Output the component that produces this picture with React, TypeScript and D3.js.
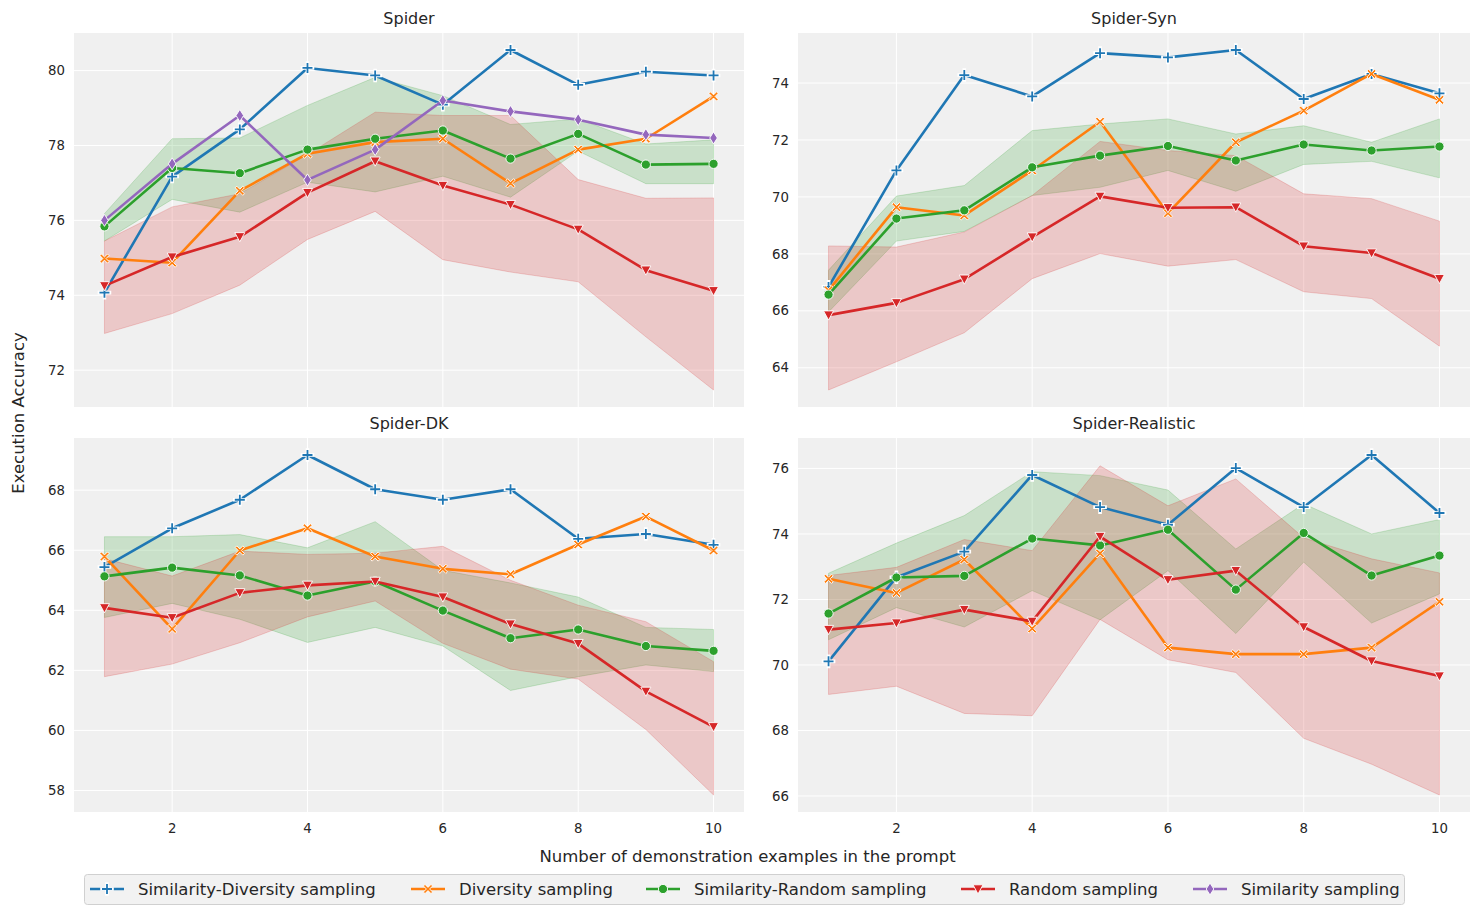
import React from 'react'
import * as d3 from 'd3'

// number of demonstration examples (x axis)
const shots = [1, 2, 3, 4, 5, 6, 7, 8, 9, 10]
const xTicks = [2, 4, 6, 8, 10]

const seriesNames = [
  'Similarity-Diversity sampling',
  'Diversity sampling',
  'Similarity-Random sampling',
  'Random sampling',
  'Similarity sampling'
]
const seriesColors = ['#1f77b4', '#ff7f0e', '#2ca02c', '#d62728', '#9467bd']
const seriesMarkers = ['plus', 'x', 'circle', 'tri', 'diamond']

// ---- Spider
const spiderSimDiv = [74.07, 77.17, 78.43, 80.07, 79.87, 79.09, 80.55, 79.62, 79.97, 79.87]
const spiderDiv = [74.98, 74.87, 76.79, 77.78, 78.09, 78.18, 76.99, 77.89, 78.18, 79.31]
const spiderSimRand = [75.84, 77.4, 77.26, 77.89, 78.18, 78.4, 77.65, 78.31, 77.49, 77.51]
const spiderSimRandHi = [76.18, 78.18, 78.2, 79.07, 79.82, 79.33, 78.56, 78.71, 78.04, 78.15]
const spiderSimRandLo = [75.45, 76.56, 76.22, 77.02, 76.76, 77.18, 76.62, 77.85, 76.98, 76.98]
const spiderRand = [74.25, 75.02, 75.56, 76.74, 77.58, 76.93, 76.42, 75.76, 74.67, 74.12]
const spiderRandHi = [75.45, 76.36, 76.71, 77.76, 78.89, 78.8, 78.8, 77.09, 76.59, 76.6]
const spiderRandLo = [72.98, 73.51, 74.27, 75.49, 76.24, 74.95, 74.62, 74.36, 72.89, 71.47]
const spiderSim = [76.0, 77.51, 78.8, 77.08, 77.89, 79.2, 78.91, 78.69, 78.29, 78.2]
const spiderTicks = [72, 74, 76, 78, 80]

// ---- Spider-Syn
const synSimDiv = [66.84, 70.93, 74.28, 73.53, 75.05, 74.9, 75.16, 73.44, 74.32, 73.64]
const synDiv = [66.72, 69.64, 69.35, 70.93, 72.64, 69.43, 71.92, 73.03, 74.32, 73.41]
const synSimRand = [66.57, 69.24, 69.53, 71.04, 71.45, 71.79, 71.28, 71.84, 71.63, 71.77]
const synSimRandHi = [67.43, 70.03, 70.4, 72.33, 72.56, 72.74, 72.21, 72.5, 71.92, 72.74]
const synSimRandLo = [65.96, 68.45, 68.79, 70.05, 70.34, 70.93, 70.2, 71.14, 71.25, 70.67]
const synRand = [65.85, 66.28, 67.11, 68.59, 70.02, 69.62, 69.64, 68.27, 68.03, 67.13]
const synRandHi = [68.28, 68.24, 68.77, 70.05, 71.95, 71.63, 71.45, 70.11, 69.94, 69.15]
const synRandLo = [63.22, 64.21, 65.23, 67.13, 68.01, 67.57, 67.8, 66.67, 66.43, 64.76]
const synTicks = [64, 66, 68, 70, 72, 74]

// ---- Spider-DK
const dkSimDiv = [65.44, 66.73, 67.68, 69.17, 68.03, 67.68, 68.03, 66.38, 66.54, 66.18]
const dkDiv = [65.79, 63.38, 65.99, 66.73, 65.79, 65.38, 65.2, 66.19, 67.12, 65.99]
const dkSimRand = [65.13, 65.42, 65.16, 64.49, 64.96, 63.99, 63.07, 63.36, 62.81, 62.65]
const dkSimRandHi = [66.45, 66.45, 66.52, 66.08, 66.95, 65.33, 64.91, 64.44, 63.43, 63.36]
const dkSimRandLo = [63.76, 64.23, 63.7, 62.93, 63.43, 62.81, 61.33, 61.79, 62.18, 61.96]
const dkRand = [64.08, 63.75, 64.58, 64.83, 64.96, 64.44, 63.54, 62.89, 61.3, 60.12]
const dkRandHi = [65.72, 65.14, 65.97, 65.86, 65.9, 66.13, 65.0, 64.17, 63.62, 62.29]
const dkRandLo = [61.79, 62.21, 62.92, 63.78, 64.31, 62.9, 62.04, 61.71, 60.03, 57.85]
const dkTicks = [58, 60, 62, 64, 66, 68]

// ---- Spider-Realistic
const realSimDiv = [70.11, 72.68, 73.46, 75.8, 74.82, 74.28, 76.01, 74.82, 76.41, 74.64]
const realDiv = [72.63, 72.2, 73.22, 71.11, 73.41, 70.53, 70.33, 70.33, 70.53, 71.93]
const realSimRand = [71.57, 72.67, 72.72, 73.86, 73.65, 74.13, 72.3, 74.03, 72.73, 73.34]
const realSimRandHi = [72.8, 73.72, 74.56, 75.9, 75.78, 75.34, 73.54, 74.92, 74.0, 74.44]
const realSimRandLo = [70.77, 71.75, 71.16, 72.27, 71.38, 72.88, 70.96, 73.14, 71.28, 72.17]
const realRand = [71.08, 71.28, 71.69, 71.33, 73.92, 72.6, 72.88, 71.16, 70.12, 69.66]
const realRandHi = [72.73, 72.98, 73.83, 73.49, 76.08, 74.86, 75.68, 73.88, 73.24, 72.81]
const realRandLo = [69.1, 69.35, 68.52, 68.45, 71.39, 70.16, 69.77, 67.76, 66.97, 66.03]
const realTicks = [66, 68, 70, 72, 74, 76]

type Band = { color: number; hi: number[]; lo: number[] }
type Panel = {
  title: string
  lines: (number[] | null)[]
  bands: Band[]
  ticks: number[]
}

const panels: Panel[] = [
  {
    title: 'Spider',
    lines: [spiderSimDiv, spiderDiv, spiderSimRand, spiderRand, spiderSim],
    bands: [
      { color: 2, hi: spiderSimRandHi, lo: spiderSimRandLo },
      { color: 3, hi: spiderRandHi, lo: spiderRandLo }
    ],
    ticks: spiderTicks
  },
  {
    title: 'Spider-Syn',
    lines: [synSimDiv, synDiv, synSimRand, synRand, null],
    bands: [
      { color: 2, hi: synSimRandHi, lo: synSimRandLo },
      { color: 3, hi: synRandHi, lo: synRandLo }
    ],
    ticks: synTicks
  },
  {
    title: 'Spider-DK',
    lines: [dkSimDiv, dkDiv, dkSimRand, dkRand, null],
    bands: [
      { color: 2, hi: dkSimRandHi, lo: dkSimRandLo },
      { color: 3, hi: dkRandHi, lo: dkRandLo }
    ],
    ticks: dkTicks
  },
  {
    title: 'Spider-Realistic',
    lines: [realSimDiv, realDiv, realSimRand, realRand, null],
    bands: [
      { color: 2, hi: realSimRandHi, lo: realSimRandLo },
      { color: 3, hi: realRandHi, lo: realRandLo }
    ],
    ticks: realTicks
  }
]

const W = 1478
const H = 915
const FONT = '"DejaVu Sans", Verdana, sans-serif'
const TEXT = '#262626'
const FACE = '#f0f0f0'

const cols = [
  [74, 744],
  [798, 1470]
]
const rows = [
  [33, 407],
  [438, 812]
]

function Marker({ kind, color, x, y }: { kind: string; color: string; x: number; y: number }) {
  const t = `translate(${x},${y})`
  if (kind === 'plus') {
    const d = 'M-5,0H5M0,-5V5'
    return (
      <g transform={t}>
        <path d={d} stroke="#fff" strokeWidth={3.6} strokeLinecap="square" fill="none" />
        <path d={d} stroke={color} strokeWidth={1.8} fill="none" />
      </g>
    )
  }
  if (kind === 'x') {
    const a = 4.6
    const w = 1.6
    const d = `M${-a},${-a + w}L${-a + w},${-a}L0,${-w}L${a - w},${-a}L${a},${-a + w}L${w},0L${a},${a - w}L${a - w},${a}L0,${w}L${-a + w},${a}L${-a},${a - w}L${-w},0Z`
    return <path transform={t} d={d} fill={color} stroke="#fff" strokeWidth={0.9} strokeLinejoin="miter" />
  }
  if (kind === 'circle') {
    return <circle cx={x} cy={y} r={4.6} fill={color} stroke="#fff" strokeWidth={0.9} />
  }
  if (kind === 'tri') {
    return <path transform={t} d="M-5,-4.2L5,-4.2L0,5Z" fill={color} stroke="#fff" strokeWidth={0.9} />
  }
  return <path transform={t} d="M0,-6L3.8,0L0,6L-3.8,0Z" fill={color} stroke="#fff" strokeWidth={0.9} />
}

function PanelView({ p, i }: { p: Panel; i: number }) {
  const [x0, x1] = cols[i % 2]
  const [y0, y1] = rows[Math.floor(i / 2)]
  const bottomRow = i >= 2

  // matplotlib-like 5% margins around the data
  const all: number[] = []
  p.lines.forEach(l => l && all.push(...l))
  p.bands.forEach(b => all.push(...b.hi, ...b.lo))
  const mn = d3.min(all)!
  const mx = d3.max(all)!
  const pad = (mx - mn) * 0.05

  const x = d3.scaleLinear().domain([0.55, 10.45]).range([x0, x1])
  const y = d3.scaleLinear().domain([mn - pad, mx + pad]).range([y1, y0])

  const line = d3.line<number>().x((_, k) => x(shots[k])).y(v => y(v))

  return (
    <g>
      <rect x={x0} y={y0} width={x1 - x0} height={y1 - y0} fill={FACE} />
      {xTicks.map(t => (
        <line key={'gx' + t} x1={x(t)} x2={x(t)} y1={y0} y2={y1} stroke="#fff" strokeWidth={1} />
      ))}
      {p.ticks.map(t => (
        <line key={'gy' + t} x1={x0} x2={x1} y1={y(t)} y2={y(t)} stroke="#fff" strokeWidth={1} />
      ))}
      {p.ticks.map(t => (
        <text
          key={'ty' + t}
          x={x0 - 9}
          y={y(t)}
          dy="0.35em"
          textAnchor="end"
          fontSize={13.3}
          fill={TEXT}
          fontFamily={FONT}
        >
          {t}
        </text>
      ))}
      {bottomRow &&
        xTicks.map(t => (
          <text
            key={'tx' + t}
            x={x(t)}
            y={y1 + 16}
            dy="0.35em"
            textAnchor="middle"
            fontSize={13.3}
            fill={TEXT}
            fontFamily={FONT}
          >
            {t}
          </text>
        ))}
      <text
        x={(x0 + x1) / 2}
        y={y0 - 15}
        dy="0.35em"
        textAnchor="middle"
        fontSize={16}
        fill={TEXT}
        fontFamily={FONT}
      >
        {p.title}
      </text>
      {p.bands.map((b, k) => {
        const d = d3
          .area<number>()
          .x((_, j) => x(shots[j]))
          .y0((_, j) => y(b.lo[j]))
          .y1(v => y(v))(b.hi)
        const c = seriesColors[b.color]
        return (
          <path key={'b' + k} d={d || ''} fill={c} fillOpacity={0.2} stroke={c} strokeOpacity={0.2} strokeWidth={1} />
        )
      })}
      {p.lines.map((l, k) =>
        l ? (
          <g key={'l' + k}>
            <path
              d={line(l) || ''}
              fill="none"
              stroke={seriesColors[k]}
              strokeWidth={2.6}
              strokeLinejoin="round"
              strokeLinecap="round"
            />
            {l.map((v, j) => (
              <Marker key={j} kind={seriesMarkers[k]} color={seriesColors[k]} x={x(shots[j])} y={y(v)} />
            ))}
          </g>
        ) : null
      )}
    </g>
  )
}

// legend handle start for each entry
const legendStarts = [90, 411, 646, 961, 1193]

export default function App() {
  return (
    <svg
      width={W}
      height={H}
      viewBox={`0 0 ${W} ${H}`}
      style={{ position: 'absolute', left: 0, top: 0, background: '#fff' }}
    >
      {panels.map((p, i) => (
        <PanelView key={p.title} p={p} i={i} />
      ))}
      <text
        transform={`translate(18,413) rotate(-90)`}
        textAnchor="middle"
        dy="0.35em"
        fontSize={16.5}
        fill={TEXT}
        fontFamily={FONT}
      >
        Execution Accuracy
      </text>
      <text x={747.5} y={856} dy="0.35em" textAnchor="middle" fontSize={16.5} fill={TEXT} fontFamily={FONT}>
        Number of demonstration examples in the prompt
      </text>
      <rect x={84.5} y={874.5} width={1320} height={30} rx={3} fill="#f2f2f2" stroke="#d0d0d0" strokeWidth={1} />
      {seriesNames.map((n, k) => {
        const lx = legendStarts[k]
        const ly = 889
        return (
          <g key={n}>
            <line x1={lx} x2={lx + 34} y1={ly} y2={ly} stroke={seriesColors[k]} strokeWidth={2.6} />
            <Marker kind={seriesMarkers[k]} color={seriesColors[k]} x={lx + 17} y={ly} />
            <text x={lx + 48} y={ly} dy="0.35em" fontSize={16.5} fill={TEXT} fontFamily={FONT}>
              {n}
            </text>
          </g>
        )
      })}
    </svg>
  )
}
